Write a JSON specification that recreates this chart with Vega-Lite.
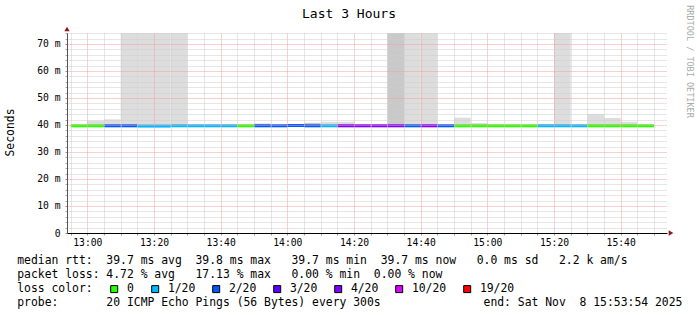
{
  "$schema": "https://vega.github.io/schema/vega-lite/v6.json",
  "width": 600,
  "height": 200,
  "autosize": {"type": "none"},
  "padding": {"left": 67, "top": 33, "right": 30, "bottom": 82},
  "background": "#ffffff",
  "config": {"view": {"stroke": null}, "font": "DejaVu Sans Mono"},
  "datasets": {
    "smoke": [
      {"t": "2025-11-08T13:00:00Z", "t2": "2025-11-08T13:05:00Z", "lo": 39.7, "hi": 41.6, "shade": "light"},
      {"t": "2025-11-08T13:05:00Z", "t2": "2025-11-08T13:10:00Z", "lo": 39.7, "hi": 42.1, "shade": "light"},
      {"t": "2025-11-08T13:10:00Z", "t2": "2025-11-08T13:15:00Z", "lo": 39.7, "hi": 95, "shade": "light"},
      {"t": "2025-11-08T13:15:00Z", "t2": "2025-11-08T13:20:00Z", "lo": 39.7, "hi": 95, "shade": "light"},
      {"t": "2025-11-08T13:20:00Z", "t2": "2025-11-08T13:25:00Z", "lo": 39.7, "hi": 95, "shade": "light"},
      {"t": "2025-11-08T13:25:00Z", "t2": "2025-11-08T13:30:00Z", "lo": 39.7, "hi": 95, "shade": "light"},
      {"t": "2025-11-08T13:50:00Z", "t2": "2025-11-08T13:55:00Z", "lo": 39.7, "hi": 40.5, "shade": "dark"},
      {"t": "2025-11-08T14:05:00Z", "t2": "2025-11-08T14:10:00Z", "lo": 39.7, "hi": 40.8, "shade": "dark"},
      {"t": "2025-11-08T14:10:00Z", "t2": "2025-11-08T14:15:00Z", "lo": 39.7, "hi": 41.2, "shade": "light"},
      {"t": "2025-11-08T14:15:00Z", "t2": "2025-11-08T14:20:00Z", "lo": 39.7, "hi": 41.2, "shade": "light"},
      {"t": "2025-11-08T14:30:00Z", "t2": "2025-11-08T14:35:00Z", "lo": 39.7, "hi": 95, "shade": "dark"},
      {"t": "2025-11-08T14:35:00Z", "t2": "2025-11-08T14:40:00Z", "lo": 39.7, "hi": 95, "shade": "light"},
      {"t": "2025-11-08T14:40:00Z", "t2": "2025-11-08T14:45:00Z", "lo": 39.7, "hi": 95, "shade": "light"},
      {"t": "2025-11-08T14:50:00Z", "t2": "2025-11-08T14:55:00Z", "lo": 39.7, "hi": 42.7, "shade": "light"},
      {"t": "2025-11-08T14:55:00Z", "t2": "2025-11-08T15:00:00Z", "lo": 39.7, "hi": 40.7, "shade": "light"},
      {"t": "2025-11-08T15:15:00Z", "t2": "2025-11-08T15:20:00Z", "lo": 39.7, "hi": 40.3, "shade": "light"},
      {"t": "2025-11-08T15:20:00Z", "t2": "2025-11-08T15:25:00Z", "lo": 39.7, "hi": 95, "shade": "light"},
      {"t": "2025-11-08T15:30:00Z", "t2": "2025-11-08T15:35:00Z", "lo": 39.7, "hi": 44.1, "shade": "light"},
      {"t": "2025-11-08T15:35:00Z", "t2": "2025-11-08T15:40:00Z", "lo": 39.7, "hi": 42.6, "shade": "light"},
      {"t": "2025-11-08T15:40:00Z", "t2": "2025-11-08T15:45:00Z", "lo": 39.7, "hi": 41.2, "shade": "light"}
    ],
    "median": [
      {"t": "2025-11-08T12:55:00Z", "t2": "2025-11-08T13:00:00Z", "med": 39.7, "loss": "0"},
      {"t": "2025-11-08T13:00:00Z", "t2": "2025-11-08T13:05:00Z", "med": 39.7, "loss": "0"},
      {"t": "2025-11-08T13:05:00Z", "t2": "2025-11-08T13:10:00Z", "med": 39.7, "loss": "2/20"},
      {"t": "2025-11-08T13:10:00Z", "t2": "2025-11-08T13:15:00Z", "med": 39.7, "loss": "2/20"},
      {"t": "2025-11-08T13:15:00Z", "t2": "2025-11-08T13:20:00Z", "med": 39.6, "loss": "1/20"},
      {"t": "2025-11-08T13:20:00Z", "t2": "2025-11-08T13:25:00Z", "med": 39.6, "loss": "1/20"},
      {"t": "2025-11-08T13:25:00Z", "t2": "2025-11-08T13:30:00Z", "med": 39.7, "loss": "1/20"},
      {"t": "2025-11-08T13:30:00Z", "t2": "2025-11-08T13:35:00Z", "med": 39.7, "loss": "1/20"},
      {"t": "2025-11-08T13:35:00Z", "t2": "2025-11-08T13:40:00Z", "med": 39.7, "loss": "1/20"},
      {"t": "2025-11-08T13:40:00Z", "t2": "2025-11-08T13:45:00Z", "med": 39.7, "loss": "1/20"},
      {"t": "2025-11-08T13:45:00Z", "t2": "2025-11-08T13:50:00Z", "med": 39.7, "loss": "0"},
      {"t": "2025-11-08T13:50:00Z", "t2": "2025-11-08T13:55:00Z", "med": 39.7, "loss": "2/20"},
      {"t": "2025-11-08T13:55:00Z", "t2": "2025-11-08T14:00:00Z", "med": 39.7, "loss": "2/20"},
      {"t": "2025-11-08T14:00:00Z", "t2": "2025-11-08T14:05:00Z", "med": 39.8, "loss": "2/20"},
      {"t": "2025-11-08T14:05:00Z", "t2": "2025-11-08T14:10:00Z", "med": 39.7, "loss": "2/20"},
      {"t": "2025-11-08T14:10:00Z", "t2": "2025-11-08T14:15:00Z", "med": 39.7, "loss": "1/20"},
      {"t": "2025-11-08T14:15:00Z", "t2": "2025-11-08T14:20:00Z", "med": 39.7, "loss": "4/20"},
      {"t": "2025-11-08T14:20:00Z", "t2": "2025-11-08T14:25:00Z", "med": 39.7, "loss": "4/20"},
      {"t": "2025-11-08T14:25:00Z", "t2": "2025-11-08T14:30:00Z", "med": 39.7, "loss": "4/20"},
      {"t": "2025-11-08T14:30:00Z", "t2": "2025-11-08T14:35:00Z", "med": 39.7, "loss": "4/20"},
      {"t": "2025-11-08T14:35:00Z", "t2": "2025-11-08T14:40:00Z", "med": 39.7, "loss": "2/20"},
      {"t": "2025-11-08T14:40:00Z", "t2": "2025-11-08T14:45:00Z", "med": 39.7, "loss": "4/20"},
      {"t": "2025-11-08T14:45:00Z", "t2": "2025-11-08T14:50:00Z", "med": 39.7, "loss": "2/20"},
      {"t": "2025-11-08T14:50:00Z", "t2": "2025-11-08T14:55:00Z", "med": 39.7, "loss": "0"},
      {"t": "2025-11-08T14:55:00Z", "t2": "2025-11-08T15:00:00Z", "med": 39.7, "loss": "0"},
      {"t": "2025-11-08T15:00:00Z", "t2": "2025-11-08T15:05:00Z", "med": 39.7, "loss": "0"},
      {"t": "2025-11-08T15:05:00Z", "t2": "2025-11-08T15:10:00Z", "med": 39.7, "loss": "0"},
      {"t": "2025-11-08T15:10:00Z", "t2": "2025-11-08T15:15:00Z", "med": 39.7, "loss": "0"},
      {"t": "2025-11-08T15:15:00Z", "t2": "2025-11-08T15:20:00Z", "med": 39.7, "loss": "1/20"},
      {"t": "2025-11-08T15:20:00Z", "t2": "2025-11-08T15:25:00Z", "med": 39.7, "loss": "1/20"},
      {"t": "2025-11-08T15:25:00Z", "t2": "2025-11-08T15:30:00Z", "med": 39.7, "loss": "1/20"},
      {"t": "2025-11-08T15:30:00Z", "t2": "2025-11-08T15:35:00Z", "med": 39.7, "loss": "0"},
      {"t": "2025-11-08T15:35:00Z", "t2": "2025-11-08T15:40:00Z", "med": 39.7, "loss": "0"},
      {"t": "2025-11-08T15:40:00Z", "t2": "2025-11-08T15:45:00Z", "med": 39.7, "loss": "0"},
      {"t": "2025-11-08T15:45:00Z", "t2": "2025-11-08T15:50:00Z", "med": 39.7, "loss": "0"}
    ],
    "arrows": [
      {"t": "2025-11-08T12:53:54Z", "v": 75.55, "dir": "up"},
      {"t": "2025-11-08T15:55:06Z", "v": 0, "dir": "right"}
    ]
  },
  "layer": [
    {
      "data": {"name": "smoke"},
      "mark": {"type": "rect", "clip": true},
      "encoding": {
        "x": {
          "field": "t", "type": "temporal",
          "scale": {"type": "utc", "domain": ["2025-11-08T12:53:54Z", "2025-11-08T15:53:54Z"]},
          "axis": {
            "values": ["2025-11-08T12:55:00Z", "2025-11-08T13:00:00Z", "2025-11-08T13:05:00Z", "2025-11-08T13:10:00Z", "2025-11-08T13:15:00Z", "2025-11-08T13:20:00Z", "2025-11-08T13:25:00Z", "2025-11-08T13:30:00Z", "2025-11-08T13:35:00Z", "2025-11-08T13:40:00Z", "2025-11-08T13:45:00Z", "2025-11-08T13:50:00Z", "2025-11-08T13:55:00Z", "2025-11-08T14:00:00Z", "2025-11-08T14:05:00Z", "2025-11-08T14:10:00Z", "2025-11-08T14:15:00Z", "2025-11-08T14:20:00Z", "2025-11-08T14:25:00Z", "2025-11-08T14:30:00Z", "2025-11-08T14:35:00Z", "2025-11-08T14:40:00Z", "2025-11-08T14:45:00Z", "2025-11-08T14:50:00Z", "2025-11-08T14:55:00Z", "2025-11-08T15:00:00Z", "2025-11-08T15:05:00Z", "2025-11-08T15:10:00Z", "2025-11-08T15:15:00Z", "2025-11-08T15:20:00Z", "2025-11-08T15:25:00Z", "2025-11-08T15:30:00Z", "2025-11-08T15:35:00Z", "2025-11-08T15:40:00Z", "2025-11-08T15:45:00Z", "2025-11-08T15:50:00Z"],
            "labelExpr": "utcminutes(datum.value) % 20 === 0 ? utcFormat(datum.value, '%H:%M') : ''",
            "labelOverlap": false, "labelFlush": false, "labelBound": false,
            "labelFont": "DejaVu Sans Mono", "labelFontSize": 9.7, "labelColor": "#000000", "labelPadding": 2,
            "ticks": true, "tickSize": 2, "tickColor": "#999999",
            "grid": true,
            "gridColor": {"condition": {"test": "utcminutes(datum.value) % 20 === 0", "value": "#f0a0a0"}, "value": "#cccccc"},
            "gridDash": [1, 1], "gridWidth": 1,
            "domainColor": "#000000", "domainWidth": 1,
            "title": [
              "median rtt:\u00a0\u00a039.7 ms avg\u00a0\u00a039.8 ms max\u00a0\u00a0\u00a039.7 ms min\u00a0\u00a039.7 ms now\u00a0\u00a0\u00a00.0 ms sd\u00a0\u00a0\u00a02.2 k am/s",
              "packet loss: 4.72 % avg\u00a0\u00a0\u00a017.13 % max\u00a0\u00a0\u00a00.00 % min\u00a0\u00a00.00 % now",
              "loss color:",
              "probe:\u00a0\u00a0\u00a0\u00a0\u00a0\u00a0\u00a020 ICMP Echo Pings (56 Bytes) every 300s\u00a0\u00a0\u00a0\u00a0\u00a0\u00a0\u00a0\u00a0\u00a0\u00a0\u00a0\u00a0\u00a0\u00a0\u00a0end: Sat Nov\u00a0\u00a08 15:53:54 2025"
            ],
            "titleX": -50.3, "titleY": 30, "titleAlign": "left", "titleAnchor": "start", "titleBaseline": "alphabetic",
            "titleLineHeight": 14.2, "titleLimit": 2000,
            "titleFont": "DejaVu Sans Mono", "titleFontSize": 11.4, "titleFontWeight": "normal", "titleColor": "#000000",
            "zindex": 1
          }
        },
        "x2": {"field": "t2"},
        "y": {
          "field": "lo", "type": "quantitative",
          "scale": {"domain": [0, 74.07], "nice": false, "zero": true},
          "axis": {
            "values": [0, 2, 4, 6, 8, 10, 12, 14, 16, 18, 20, 22, 24, 26, 28, 30, 32, 34, 36, 38, 40, 42, 44, 46, 48, 50, 52, 54, 56, 58, 60, 62, 64, 66, 68, 70, 72, 74],
            "labelExpr": "datum.value % 10 === 0 ? (datum.value === 0 ? '0' : datum.value + ' m') : ''",
            "labelOverlap": false, "labelBound": false, "labelFlush": false,
            "labelFont": "DejaVu Sans Mono", "labelFontSize": 9.7, "labelColor": "#000000", "labelPadding": 5,
            "ticks": true, "tickSize": 2,
            "tickColor": {"condition": {"test": "datum.value % 10 === 0", "value": "#c08080"}, "value": "#aaaaaa"},
            "grid": true,
            "gridColor": {"condition": {"test": "datum.value % 10 === 0", "value": "#f0a0a0"}, "value": "#cccccc"},
            "gridDash": [1, 1], "gridWidth": 1,
            "domainColor": "#555555", "domainWidth": 1,
            "title": "Seconds", "titleX": -56.5, "titleY": 99, "titleAngle": -90, "titleAlign": "center", "titleBaseline": "middle",
            "titleFont": "DejaVu Sans Mono", "titleFontSize": 11.4, "titleFontWeight": "normal", "titleColor": "#000000",
            "zindex": 1
          }
        },
        "y2": {"field": "hi"},
        "fill": {"field": "shade", "type": "nominal", "scale": {"domain": ["light", "dark"], "range": ["#dddddd", "#c9c9c9"]}, "legend": null}
      }
    },
    {
      "data": {"name": "median"},
      "mark": {"type": "rect", "yOffset": 1.5, "y2Offset": -1.5},
      "encoding": {
        "x": {
          "field": "t", "type": "temporal",
          "scale": {"type": "utc", "domain": ["2025-11-08T12:53:54Z", "2025-11-08T15:53:54Z"]},
          "axis": {
            "orient": "top", "labels": false, "ticks": false, "domain": false, "grid": false,
            "title": "Last 3 Hours", "titleX": 281.5, "titleY": -15.5, "titleAlign": "center", "titleBaseline": "alphabetic",
            "titleFont": "DejaVu Sans Mono", "titleFontSize": 13, "titleFontWeight": "normal", "titleColor": "#000000"
          }
        },
        "x2": {"field": "t2"},
        "y": {
          "field": "med", "type": "quantitative",
          "scale": {"domain": [0, 74.07], "nice": false, "zero": true},
          "axis": {
            "orient": "right", "labels": false, "ticks": false, "domain": false, "grid": false,
            "title": "RRDTOOL / TOBI OETIKER", "titleAngle": 90, "titleX": 22, "titleY": 28, "titleAlign": "center", "titleBaseline": "middle",
            "titleFont": "DejaVu Sans Mono", "titleFontSize": 8.5, "titleFontWeight": "normal", "titleColor": "#aaaaaa"
          }
        },
        "y2": {"field": "med"},
        "color": {
          "field": "loss", "type": "nominal",
          "scale": {"domain": ["0", "1/20", "2/20", "3/20", "4/20", "10/20", "19/20"], "range": ["#26ff00", "#00b8ff", "#0059ff", "#5e00ff", "#7e00ff", "#dd00ff", "#ff0000"]},
          "legend": {
            "orient": "none", "legendX": 41.5, "legendY": 250, "direction": "horizontal", "padding": 0,
            "title": null, "gridAlign": "each",
            "symbolType": "square", "symbolSize": 49, "symbolStrokeWidth": 1, "symbolStrokeColor": "#000000", "symbolOpacity": 1,
            "labelFont": "DejaVu Sans Mono", "labelFontSize": 11.4, "labelColor": "#000000", "labelOffset": 7, "columnPadding": 15
          }
        }
      }
    },
    {
      "data": {"name": "arrows"},
      "mark": {"type": "point", "filled": true, "size": 28, "opacity": 1, "color": "#8b1a1a"},
      "encoding": {
        "x": {"field": "t", "type": "temporal", "axis": null,
          "scale": {"type": "utc", "domain": ["2025-11-08T12:53:54Z", "2025-11-08T15:53:54Z"]}},
        "y": {"field": "v", "type": "quantitative", "axis": null, "scale": {"domain": [0, 74.07], "nice": false, "zero": true}},
        "shape": {"field": "dir", "type": "nominal", "scale": {"domain": ["up", "right"], "range": ["triangle-up", "triangle-right"]}, "legend": null}
      }
    }
  ],
  "resolve": {"axis": {"x": "independent", "y": "independent"}}
}
